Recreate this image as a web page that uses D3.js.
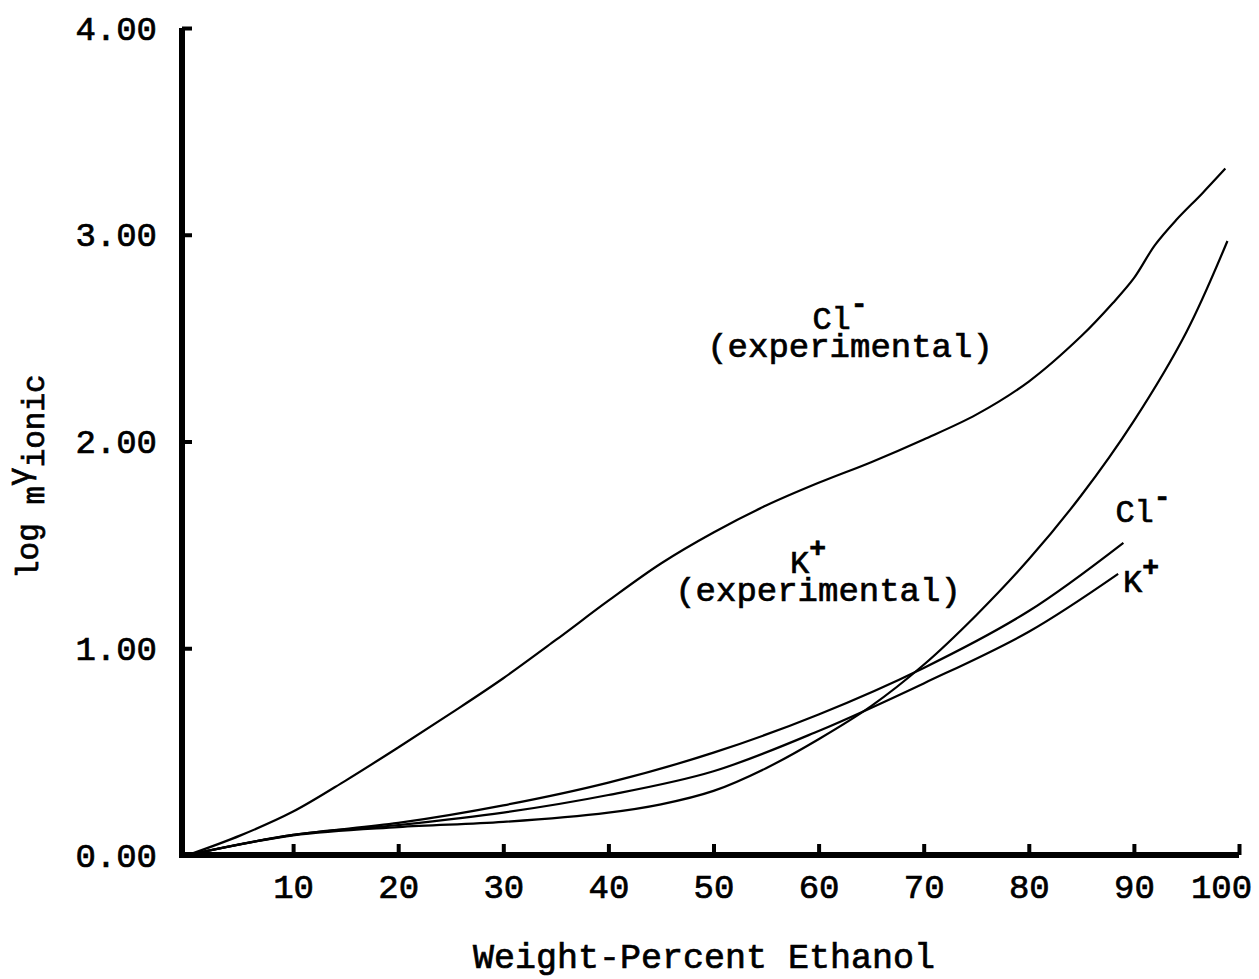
<!DOCTYPE html>
<html><head><meta charset="utf-8">
<script src="https://cdn.jsdelivr.net/npm/d3@7"></script>
<style>
body{margin:0;background:#fff}
text{font-family:"Liberation Mono","DejaVu Sans Mono",monospace;fill:#000;stroke:#000;stroke-width:0.7px}
</style>
</head><body>
<svg id="chart" width="1259" height="979"></svg>
<script>
// ---- data ----
const xTickValues = [10,20,30,40,50,60,70,80,90,100];
const yTickValues = [0,1,2,3,4];
const yTickLabels = ["0.00","1.00","2.00","3.00","4.00"];
const xTitle = "Weight-Percent Ethanol";

const clExperimental = [[0,0],[5,0.095],[10,0.21],[15,0.36],[20,0.52],[25,0.685],[30,0.855],[35,1.04],[40,1.23],[45,1.41],[50,1.56],[55,1.69],[60,1.80],[65,1.90],[70,2.01],[75,2.13],[80,2.29],[85,2.51],[88,2.67],[90,2.79],[92,2.95],[94,3.07],[96.5,3.20],[98.7,3.32]];
const kExperimental = [[0,0],[10,0.095],[20,0.135],[30,0.16],[40,0.205],[45,0.245],[50,0.31],[55,0.42],[60,0.56],[65,0.72],[70,0.92],[75,1.16],[80,1.43],[85,1.74],[90,2.10],[95,2.53],[98.9,2.97]];
const clCalculated = [[0,0],[10,0.097],[20,0.155],[30,0.24],[40,0.35],[50,0.495],[60,0.68],[70,0.905],[80,1.18],[89,1.51]];
const kCalculated = [[0,0],[10,0.097],[20,0.145],[30,0.205],[40,0.29],[50,0.405],[60,0.60],[70,0.83],[80,1.08],[88.5,1.36]];

const seriesLabels = [
  {main:"Cl", sup:"-", sub:"(experimental)", x:840, y:329},
  {main:"K", sup:"+", sub:"(experimental)", x:808, y:573},
  {main:"Cl", sup:"-", sub:null, x:1143, y:522},
  {main:"K", sup:"+", sub:null, x:1141, y:592}
];

// ---- drawing ----
const svg = d3.select("#chart");
const x = d3.scaleLinear().domain([0,100]).range([188,1239]);
const y = d3.scaleLinear().domain([0,4]).range([855,28]);

const line = d3.line().x(d=>x(d[0])).y(d=>y(d[1])).curve(d3.curveCatmullRom.alpha(0.5));
[clExperimental,kExperimental,clCalculated,kCalculated].forEach(s=>{
  svg.append("path").attr("d",line(s)).attr("fill","none").attr("stroke","#000").attr("stroke-width",2.2);
});

// x axis
const gx = svg.append("g").attr("transform",`translate(0,${y(0)})`)
  .call(d3.axisBottom(x).tickValues(xTickValues).tickSize(-11).tickSizeOuter(0).tickFormat(d3.format("d")));
gx.select(".domain").attr("stroke","#000").attr("stroke-width",6).attr("d",`M${x(0)-9},0H${x(100)}`);
gx.selectAll(".tick line").attr("stroke","#000").attr("stroke-width",4);
gx.selectAll(".tick text").attr("y",43).attr("dy",0).attr("font-size",34)
  .attr("dx",d=>d===100?-18:0);

// y axis
const gy = svg.append("g").attr("transform",`translate(182,0)`)
  .call(d3.axisLeft(y).tickValues(yTickValues).tickSize(-10).tickSizeOuter(0).tickFormat((d,i)=>yTickLabels[i]));
gy.select(".domain").attr("stroke","#000").attr("stroke-width",6).attr("d",`M0,${y(4)}V${y(0)+3}`);
gy.selectAll(".tick line").attr("stroke","#000").attr("stroke-width",4).attr("x2",d=>d===0?0:10);
gy.selectAll(".tick text").attr("x",-25).attr("dy",0).attr("y",11).attr("font-size",34).attr("text-anchor","end");

// x axis title
svg.append("text").attr("x",704).attr("y",968).attr("text-anchor","middle").attr("font-size",35).text(xTitle);

// y axis title (log mγionic)
const yt = svg.append("text").attr("transform","translate(38,579) rotate(-90)").attr("font-size",31);
yt.append("tspan").text("log ");
yt.append("tspan").attr("dy",6).text("m");
yt.append("tspan").attr("dy",-15).text("γ");
yt.append("tspan").attr("dy",15).text("ionic");

// series labels
seriesLabels.forEach(l=>{
  const t = svg.append("text").attr("x",l.x).attr("y",l.y).attr("text-anchor","middle").attr("font-size",32);
  t.append("tspan").text(l.main);
  t.append("tspan").attr("dy",-16).attr("font-weight","bold").attr("font-size",28).text(l.sup);
  if(l.sub){
    t.append("tspan").attr("x",l.x+10).attr("dy",44).attr("font-size",34).text(l.sub);
  }
});
</script>
</body></html>
